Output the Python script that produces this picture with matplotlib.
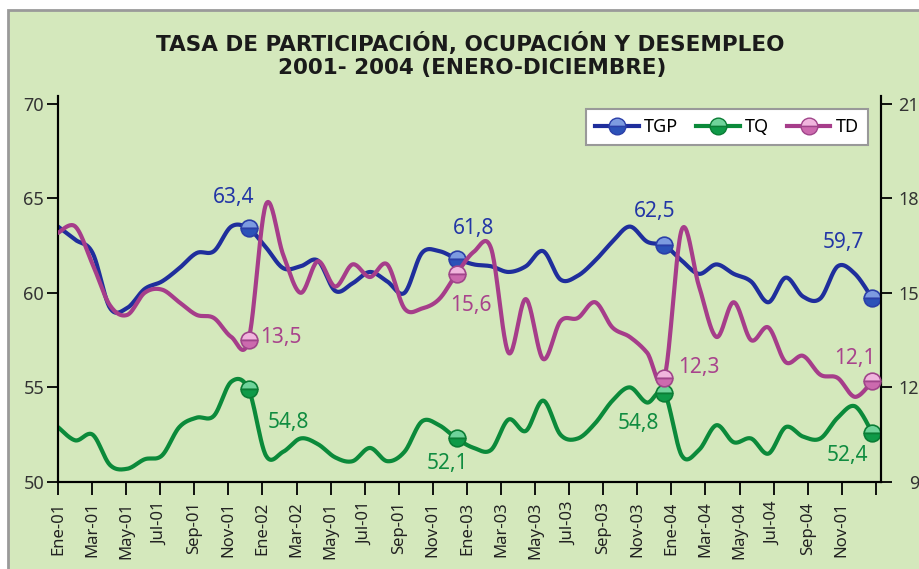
import matplotlib
matplotlib.use("Agg")
import matplotlib.pyplot as plt
from matplotlib.patches import Rectangle
from matplotlib.lines import Line2D
import numpy as np

# monthly values, Ene-2001 .. Dic-2004
tgp = [63.5, 62.8, 62.1, 59.2, 59.2, 60.2, 60.6, 61.3, 62.1, 62.2, 63.5, 63.4,
       62.4, 61.3, 61.4, 61.7, 60.1, 60.5, 61.1, 60.6, 60.0, 62.1, 62.2, 61.8,
       61.5, 61.4, 61.1, 61.4, 62.2, 60.7, 60.9, 61.7, 62.7, 63.5, 62.7, 62.5,
       61.7, 61.0, 61.5, 61.0, 60.6, 59.5, 60.8, 59.8, 59.7, 61.4, 61.0, 59.7]
tq = [52.9, 52.2, 52.5, 50.9, 50.7, 51.2, 51.4, 52.9, 53.4, 53.5, 55.3, 54.9,
      51.4, 51.6, 52.3, 52.0, 51.3, 51.1, 51.8, 51.1, 51.6, 53.2, 53.0, 52.3,
      51.8, 51.7, 53.3, 52.7, 54.3, 52.5, 52.3, 53.1, 54.3, 55.0, 54.2, 54.7,
      51.4, 51.7, 53.0, 52.1, 52.3, 51.5, 52.9, 52.4, 52.3, 53.4, 54.0, 52.6]
td = [16.9, 17.1, 15.9, 14.6, 14.3, 15.0, 15.1, 14.7, 14.3, 14.2, 13.6, 13.5,
      17.8, 16.2, 15.0, 16.0, 15.2, 15.9, 15.5, 15.9, 14.5, 14.5, 14.8, 15.6,
      16.3, 16.4, 13.1, 14.8, 12.9, 14.1, 14.2, 14.7, 13.9, 13.6, 13.1, 12.3,
      17.0, 15.2, 13.6, 14.7, 13.5, 13.9, 12.8, 13.0, 12.4, 12.3, 11.7, 12.2]

tick_labels = ["Ene-01", "Mar-01", "May-01", "Jul-01", "Sep-01", "Nov-01",
               "Ene-02", "Mar-02", "May-01", "Jul-01", "Sep-01", "Nov-01",
               "Ene-03", "Mar-03", "May-03", "Jul-03", "Sep-03", "Nov-03",
               "Ene-04", "Mar-04", "May-04", "Jul-04", "Sep-04", "Nov-01", ""]

# December points carry a marker and a label
marked = [11, 23, 35, 47]
tgp_lbl = ["63,4", "61,8", "62,5", "59,7"]
tq_lbl = ["54,8", "52,1", "54,8", "52,4"]
td_lbl = ["13,5", "15,6", "12,3", "12,1"]

c_tgp = "#1f2e9c"
c_tq = "#0b8a3a"
c_td = "#a63d8a"
bg = "#d4e8bc"


def smooth(x, y, n=24):
    # bezier smoothing like the spreadsheet "smoothed line"
    x = np.asarray(x, float)
    y = np.asarray(y, float)
    xs, ys = [], []
    t = np.linspace(0, 1, n, endpoint=False)
    for i in range(len(x) - 1):
        a = max(i - 1, 0)
        b = min(i + 2, len(x) - 1)
        p0 = np.array([x[i], y[i]])
        p3 = np.array([x[i + 1], y[i + 1]])
        p1 = p0 + (np.array([x[i + 1], y[i + 1]]) - np.array([x[a], y[a]])) / 6
        p2 = p3 - (np.array([x[b], y[b]]) - np.array([x[i], y[i]])) / 6
        pts = ((1 - t) ** 3)[:, None] * p0 + (3 * (1 - t) ** 2 * t)[:, None] * p1 \
            + (3 * (1 - t) * t ** 2)[:, None] * p2 + (t ** 3)[:, None] * p3
        xs.extend(pts[:, 0])
        ys.extend(pts[:, 1])
    xs.append(x[-1])
    ys.append(y[-1])
    return np.array(xs), np.array(ys)


plt.rcParams["font.family"] = ["Noto Sans", "DejaVu Sans"]

fig = plt.figure(figsize=(9.2, 5.69), dpi=100)
fig.patch.set_facecolor("white")
fig.patches.append(Rectangle((8 / 920, -0.02), 1.05, 1 - 10 / 569 + 0.02,
                             transform=fig.transFigure, facecolor=bg,
                             edgecolor="#9a9a9a", lw=2, zorder=-5))

ax = fig.add_axes([58 / 920, 1 - 482 / 569, (881 - 58) / 920, (482 - 96) / 569])
ax2 = ax.twinx()
ax.patch.set_visible(False)
ax2.patch.set_visible(False)

x = np.arange(len(tgp))
xm = np.array(marked)

mk = dict(marker="o", markersize=12, fillstyle="top", markeredgewidth=1.2, linestyle="none")

sx, sy = smooth(x, tgp)
ax.plot(sx, sy, color=c_tgp, lw=3, solid_capstyle="round", zorder=3)
ax.plot(xm, [tgp[i] for i in marked], markerfacecolor="#7d9be0",
        markerfacecoloralt="#2c52b8", markeredgecolor="#2b3fa8", zorder=5, **mk)

sx, sy = smooth(x, tq)
ax.plot(sx, sy, color=c_tq, lw=3, solid_capstyle="round", zorder=3)
ax.plot(xm, [tq[i] for i in marked], markerfacecolor="#6fd39a",
        markerfacecoloralt="#0f9a48", markeredgecolor="#0b7d35", zorder=5, **mk)

sx, sy = smooth(x, td)
ax2.plot(sx, sy, color=c_td, lw=3, solid_capstyle="round", zorder=3)
ax2.plot(xm, [td[i] for i in marked], markerfacecolor="#f0b5dd",
         markerfacecoloralt="#cc6aae", markeredgecolor="#a0458a", zorder=5, **mk)

# labels (offsets in pixels from the marker)
off_tgp = [(-15, 31), (17, 30), (-10, 34), (-29, 56)]
off_tq = [(40, -33), (-9, -25), (-26, -30), (-25, -23)]
off_td = [(32, 3), (14, -32), (35, 10), (-17, 23)]
for k, i in enumerate(marked):
    ax.annotate(tgp_lbl[k], (i, tgp[i]), xytext=off_tgp[k], textcoords="offset pixels",
                ha="center", va="center", color="#2336a6", fontsize=15, zorder=6)
    ax.annotate(tq_lbl[k], (i, tq[i]), xytext=off_tq[k], textcoords="offset pixels",
                ha="center", va="center", color="#108c40", fontsize=15, zorder=6)
    ax2.annotate(td_lbl[k], (i, td[i]), xytext=off_td[k], textcoords="offset pixels",
                 ha="center", va="center", color="#a8438c", fontsize=15, zorder=6)

ax.set_xlim(0, 47.5)
ax.set_ylim(50, 70.4)
ax2.set_ylim(9, 9 + 20.4 * 0.6)
ax.set_yticks([50, 55, 60, 65, 70])
ax2.set_yticks([9, 12, 15, 18, 21])
ax.set_xticks(np.linspace(0, 47.2, len(tick_labels)))
ax.set_xticklabels(tick_labels, rotation=90, fontsize=12, color="#222222")

ax.tick_params(axis="y", labelsize=13, length=8, width=1.3, pad=2, labelcolor="#333333")
ax.tick_params(axis="x", length=9, width=1.3, pad=5)
ax2.tick_params(axis="y", labelsize=13, length=8, width=1.3, pad=19.5, labelcolor="#333333")
for tk in ax2.yaxis.get_major_ticks():
    tk.label2.set_horizontalalignment("right")

for a in (ax, ax2):
    a.spines["top"].set_visible(False)
    for s in ("left", "right", "bottom"):
        a.spines[s].set_linewidth(1.5)
        a.spines[s].set_color("black")

fig.text(0.511, 1 - 44 / 569, "TASA DE PARTICIPACIÓN, OCUPACIÓN Y DESEMPLEO",
         ha="center", va="center", fontsize=15.5, fontweight="bold", color="#1a1a1a",
         family=["Liberation Sans Narrow", "DejaVu Sans"])
fig.text(0.513, 1 - 68 / 569, "2001- 2004 (ENERO-DICIEMBRE)",
         ha="center", va="center", fontsize=15.5, fontweight="bold", color="#1a1a1a",
         family=["Liberation Sans Narrow", "DejaVu Sans"])

handles = [
    Line2D([], [], color=c_tgp, lw=3, marker="o", markersize=12, fillstyle="top",
           markerfacecolor="#7d9be0", markerfacecoloralt="#2c52b8", markeredgecolor="#2b3fa8"),
    Line2D([], [], color=c_tq, lw=3, marker="o", markersize=12, fillstyle="top",
           markerfacecolor="#6fd39a", markerfacecoloralt="#0f9a48", markeredgecolor="#0b7d35"),
    Line2D([], [], color=c_td, lw=3, marker="o", markersize=12, fillstyle="top",
           markerfacecolor="#f0b5dd", markerfacecoloralt="#cc6aae", markeredgecolor="#a0458a"),
]
leg = ax2.legend(handles, ["TGP", "TQ", "TD"], ncol=3, loc="upper right",
                 bbox_to_anchor=(868 / 920, 1 - 109 / 569), bbox_transform=fig.transFigure,
                 fontsize=13, frameon=True, fancybox=False, framealpha=1,
                 edgecolor="#999999", handlelength=2.4, handletextpad=0.3,
                 columnspacing=1.0, borderpad=0.5, borderaxespad=0)
leg.get_frame().set_linewidth(1.5)
leg.set_zorder(10)

fig.savefig("out.png", dpi=100)
